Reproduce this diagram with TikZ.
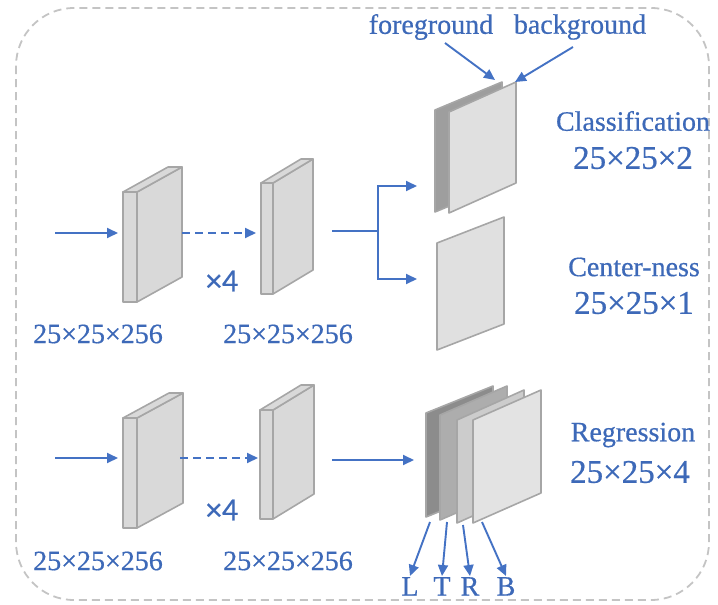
\documentclass[tikz,border=0pt]{standalone}
\usepackage{fontspec}
\setmainfont{Liberation Serif}
\newfontfamily\timesfont[FakeBold=0.6]{Liberation Serif}
\newfontfamily\calfont[FakeBold=0.4]{Carlito}
\usetikzlibrary{arrows.meta,calc}
\definecolor{arrowblue}{HTML}{4472C4}
\definecolor{textblue}{HTML}{3D69B8}
\definecolor{slabgray}{HTML}{D9D9D9}
\definecolor{slabedge}{HTML}{A6A6A6}
\definecolor{bordergray}{HTML}{C4C4C4}
\tikzset{
  arr/.style={draw=arrowblue, line width=1.9pt, -{Triangle[length=11pt,width=10pt]}},
  dasharr/.style={arr, dash pattern=on 8pt off 5pt},
  slabface/.style={fill=slabgray, draw=slabedge, line width=1.6pt, line join=round},
  planeface/.style={draw=slabedge, line width=1.6pt, line join=round},
  lbl/.style={text=textblue, font=\timesfont\fontsize{28}{30}\selectfont, inner sep=1pt},
  dimlbl/.style={text=textblue, font=\timesfont\fontsize{33}{35}\selectfont, inner sep=1pt},
  timeslbl/.style={text=textblue, font=\calfont\fontsize{32}{34}\selectfont, inner sep=1pt},
  border/.style={draw=bordergray, line width=1.8pt, dash pattern=on 8pt off 5pt, rounded corners=58pt}
}
\newcommand{\slabdraw}[6]{%
  \draw[slabface] (#1,#2) -- ++(#3,0) -- ++(0,#4) -- ++(-#3,0) -- cycle;
  \draw[slabface] (#1+#3,#2) -- ++(#5,-#6) -- ++(0,#4) -- ++(-#5,#6) -- cycle;
  \draw[slabface] (#1,#2) -- ++(#5,-#6) -- ++(#3,0) -- ++(-#5,#6) -- cycle;
}
\newcommand{\planedraw}[6]{%
  \draw[planeface, fill=#1] (#2,#3) -- ++(#4,-#5) -- ++(0,#6) -- ++(-#4,#5) -- cycle;
}
\begin{document}
\begin{tikzpicture}[x=1pt, y=-1pt]
\useasboundingbox (0,0) rectangle (718,605);
\draw[border] (16,8) rectangle (709,600);

% ---- top row blocks
\slabdraw{123}{192}{14}{110}{45}{25}
\slabdraw{261}{183}{12}{111}{40}{24}
% ---- bottom row blocks
\slabdraw{123}{418}{14}{110}{46}{25}
\slabdraw{260}{410}{13}{109}{41}{25}

% ---- classification planes
\planedraw{black!38}{435}{110}{67}{28}{102}
\planedraw{black!12}{449}{112}{67}{30}{101}
% ---- center-ness plane
\planedraw{black!12}{437}{243}{67}{26}{107}
% ---- regression planes
\planedraw{black!45}{426}{413}{67}{27}{104}
\planedraw{black!32}{440}{415}{67}{29}{105}
\planedraw{black!20}{457}{420}{67}{30}{103}
\planedraw{black!11}{473}{420}{68}{30}{103}

% ---- coordinates
\coordinate (inA) at (55,233);
\coordinate (b1A) at (118,233);
\coordinate (o1A) at (182,233);
\coordinate (b2A) at (256,233);
\coordinate (o2A) at (332,231);
\coordinate (jn) at (378,231);
\coordinate (clsin) at (417,186);
\coordinate (ctrin) at (417,279);
\coordinate (inB) at (55,458);
\coordinate (b1B) at (118,458);
\coordinate (o1B) at (180,458);
\coordinate (b2B) at (258,458);
\coordinate (o2B) at (332,460);
\coordinate (regin) at (414,460);
\coordinate (fgtip) at (495,80);
\coordinate (bgtip) at (515,82);
\coordinate (pL) at (430,522);
\coordinate (pT) at (447,522);
\coordinate (pR) at (463,525);
\coordinate (pB) at (482,522);

% ---- arrows
\draw[arr] (inA) -- (b1A);
\draw[dasharr] (o1A) -- (b2A);
\draw[arr] (o2A) -- (jn) |- (clsin);
\draw[arr] (jn) |- (ctrin);
\draw[arr] (inB) -- (b1B);
\draw[dasharr] (o1B) -- (b2B);
\draw[arr] (o2B) -- (regin);

% ---- labels
\node[lbl] (d1A) at (98,334) {25×25×256};
\node[lbl] (d2A) at (288,334) {25×25×256};
\node[lbl] (d1B) at (98,561) {25×25×256};
\node[lbl] (d2B) at (288,561) {25×25×256};
\node[timeslbl] (x4A) at (222,281) {×4};
\node[timeslbl] (x4B) at (222,510) {×4};

\node[lbl] (fg) at (431,27) {foreground};
\node[lbl] (bg) at (580,27) {background};
\coordinate (fgs) at (445,43);
\coordinate (bgs) at (573,47);
\draw[arr] (fgs) -- (fgtip);
\draw[arr] (bgs) -- (bgtip);

\node[lbl] (cls) at (633,121) {Classification};
\node[dimlbl] (clsd) at (633,158) {25×25×2};
\node[lbl] (ctr) at (634,267) {Center-ness};
\node[dimlbl] (ctrd) at (634,303) {25×25×1};
\node[lbl] (reg) at (633,435) {Regression};
\node[dimlbl] (regd) at (630,472) {25×25×4};

\node[lbl, anchor=north] (L) at (410,576) {L};
\node[lbl, anchor=north] (T) at (442,576) {T};
\node[lbl, anchor=north] (R) at (470,576) {R};
\node[lbl, anchor=north] (B) at (506,576) {B};
\draw[arr] (pL) -- (L.north);
\draw[arr] (pT) -- (T.north);
\draw[arr] (pR) -- (R.north);
\draw[arr] (pB) -- (B.north);
\end{tikzpicture}
\end{document}
